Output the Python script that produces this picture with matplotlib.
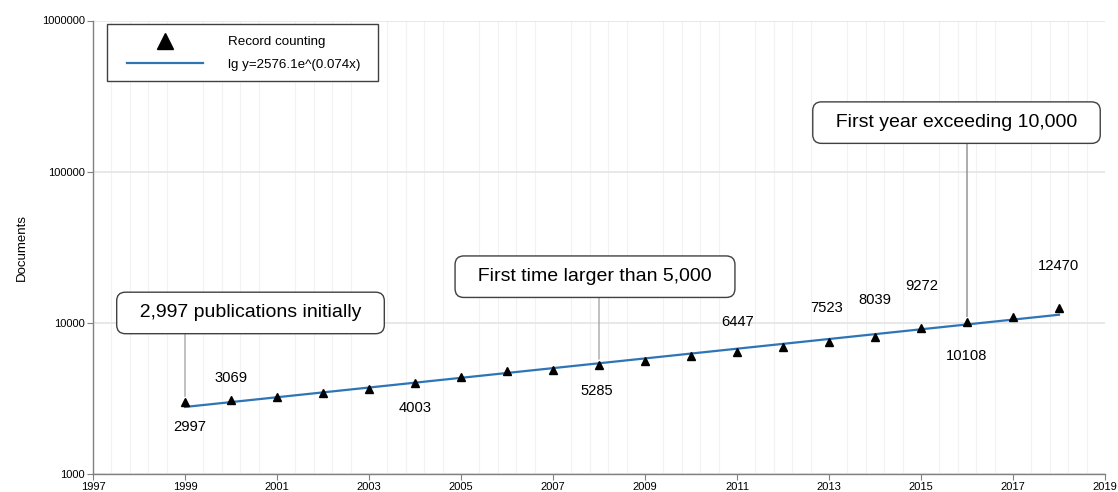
import numpy as np
import matplotlib.pyplot as plt
from matplotlib.patches import Rectangle
from matplotlib.ticker import FixedLocator, FuncFormatter

plt.rcParams['font.family'] = ['Liberation Sans', 'DejaVu Sans']

# documents per year
years = np.arange(1999, 2019)
docs = np.array([2997, 3069, 3250, 3440, 3670, 4003, 4380, 4780, 4860, 5285,
                 5560, 6000, 6447, 6900, 7523, 8039, 9272, 10108, 10970, 12470])

# years whose value is written next to the marker, and offset of the label (px)
label_years = [1999, 2000, 2004, 2008, 2011, 2013, 2014, 2015, 2016, 2018]
label_dy = [25, -22, 25, 26, -30, -34, -37, -42, 34, -42]
label_dx = [5, 0, 0, -2, 1, -2, 0, 1, 0, 0]

# callouts: year, text, offset of box centre from the point (px)
callout_years = [1999, 2008, 2016]
callout_text = ['2,997 publications initially', 'First time larger than 5,000',
                'First year exceeding 10,000']
callout_off = [(65.5, -89), (-4, -88), (-10.5, -199.5)]
callout_col = ['#a6a6a6', '#a6a6a6', '#8c8c8c']
box_half = 20

# exponential trend fitted in log space, x = 1..20
x = years - 1998
b, lna = np.polyfit(x, np.log(docs), 1)
trend = np.exp(lna) * np.exp(b * x)

fig = plt.figure(figsize=(11.18, 4.92), dpi=100)
ax = fig.add_axes([93 / 1118, 18 / 492, 1012 / 1118, 453.5 / 492])

ax.plot(years, docs, linestyle='none', marker='^', color='black', markersize=5.3,
        label='Record counting', zorder=4)
ax.plot(years, trend, color='#2e75b6', linewidth=1.6, label='lg y=2576.1e^(0.074x)', zorder=3)

ax.set_yscale('log')
ax.set_ylim(1000, 1000000)
ax.set_xlim(1997, 2019)
ax.set_xticks(np.arange(1997, 2020, 2))
ax.xaxis.set_minor_locator(FixedLocator(np.arange(1997, 2019.01, 0.4)))
ax.set_yticks([1000, 10000, 100000, 1000000])
ax.yaxis.set_minor_locator(FixedLocator([]))
ax.yaxis.set_major_formatter(FuncFormatter(lambda v, p: '%d' % v))

ax.grid(which='minor', axis='x', color='#f2f2f2', linewidth=0.8)
ax.grid(which='major', axis='y', color='#e4e4e4', linewidth=1.2)
ax.set_axisbelow(True)
ax.tick_params(axis='x', which='minor', length=0)
ax.tick_params(which='major', length=4, color='#808080', labelsize=8, pad=2)

for s in ['top', 'right']:
    ax.spines[s].set_visible(False)
for s in ['left', 'bottom']:
    ax.spines[s].set_color('#808080')
    ax.spines[s].set_linewidth(1.0)

ax.set_ylabel('Documents', fontsize=9.5, labelpad=10)

for yr, dx, dy in zip(label_years, label_dx, label_dy):
    v = docs[years == yr][0]
    ax.annotate(str(v), (yr, v), xytext=(dx * 0.72, -dy * 0.72), textcoords='offset points',
                ha='center', va='center', fontsize=10.6)

for yr, txt, off, col in zip(callout_years, callout_text, callout_off, callout_col):
    v = docs[years == yr][0]
    ax.annotate('  ' + txt + '  ', (yr, v), xytext=(off[0] * 0.72, -off[1] * 0.72),
                textcoords='offset points', ha='center', va='center', fontsize=14,
                bbox=dict(boxstyle='round,pad=0.63,rounding_size=0.45', fc='white',
                          ec='#404040', lw=1.0),
                zorder=5)
    # vertical leader from the box down to the marker
    ax.annotate('', (yr, v), xytext=(0, -(off[1] + box_half) * 0.72),
                textcoords='offset points',
                arrowprops=dict(arrowstyle='-', color=col, lw=1.0, shrinkA=0, shrinkB=4),
                zorder=4.5)

# legend frame drawn separately so its padding can differ from the entries
ax.add_patch(Rectangle((14 / 1012, 393.5 / 453.5), 271 / 1012, 56.5 / 453.5,
                       transform=ax.transAxes, fc='white', ec='#404040', lw=1.0, zorder=6))
leg = ax.legend(loc='upper left', bbox_to_anchor=(34 / 1012, 438 / 453.5), borderaxespad=0,
                fontsize=9.6, handlelength=5.7, handletextpad=1.9, labelspacing=0.75,
                borderpad=0, markerscale=2.3, frameon=False)
leg.set_zorder(7)

fig.savefig('out.png', dpi=100)
